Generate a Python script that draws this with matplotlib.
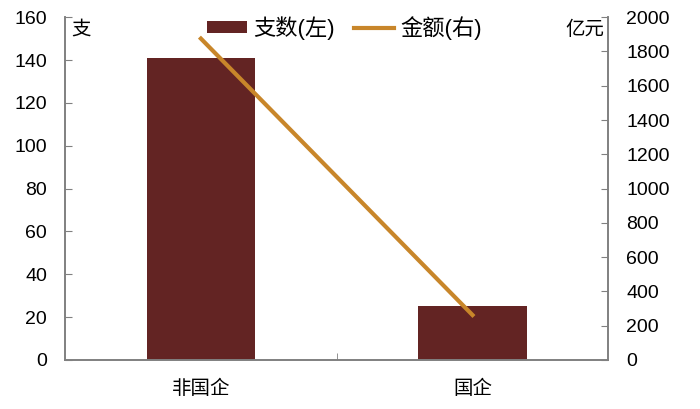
from matplotlib import pyplot as plt
import numpy as np

categories = ['非国企', '国企']
counts = [141, 25]        # 支数(左)
amounts = [1875, 262]     # 金额(右), 亿元

BAR = '#632423'
LINE = '#C8862A'
GRAY = '#808080'

plt.rcParams['font.family'] = ['Liberation Sans', 'Noto Sans CJK SC', 'DejaVu Sans']


def main():
    fig = plt.figure(figsize=(7, 4.09), dpi=100)
    ax = fig.add_axes([0.093, 0.12, 0.776, 0.838])
    ax2 = ax.twinx()

    x = np.arange(len(categories))
    b = ax.bar(x, counts, width=0.4, color=BAR, label='支数(左)', zorder=2)
    l, = ax2.plot(x, amounts, color=LINE, lw=3, label='金额(右)', zorder=3)

    ax.set_xlim(-0.5, 1.5)
    ax.set_ylim(0, 160)
    ax.set_yticks(np.arange(0, 161, 20))
    ax2.set_ylim(0, 2000)
    ax2.set_yticks(np.arange(0, 2001, 200))

    ax.set_xticks(x)
    ax.set_xticklabels(categories, fontsize=14, family=['Noto Sans CJK SC'])
    ax.set_xticks([0.5], minor=True)
    ax.tick_params(axis='x', which='major', length=0, pad=13)
    ax.tick_params(axis='x', which='minor', direction='in', length=5, color=GRAY)

    ax.tick_params(axis='y', direction='in', length=5, color=GRAY, labelsize=14, pad=13)
    ax2.tick_params(axis='y', direction='in', length=5, color=GRAY, labelsize=14, pad=13)

    for a in (ax, ax2):
        a.spines['top'].set_visible(False)
        for s in ['left', 'right', 'bottom']:
            a.spines[s].set_color(GRAY)
            a.spines[s].set_linewidth(1.2)
    ax.set_zorder(ax2.get_zorder() - 1)
    ax2.patch.set_visible(False)

    ax.text(0.012, 0.995, '支', transform=ax.transAxes, fontsize=14,
            family=['Noto Sans CJK SC'], va='top', ha='left')
    ax2.text(0.992, 0.995, '亿元', transform=ax2.transAxes, fontsize=14,
             family=['Noto Sans CJK SC'], va='top', ha='right')

    fig.legend([b, l], ['支数(左)', '金额(右)'], loc='center',
               bbox_to_anchor=(0.492, 0.932), ncol=2, frameon=False,
               fontsize=16, handlelength=1.8, handleheight=0.5,
               columnspacing=0.9, handletextpad=0.25, borderpad=0.2)

    fig.savefig('out.png', dpi=100)


if __name__ == "__main__":
    main()
